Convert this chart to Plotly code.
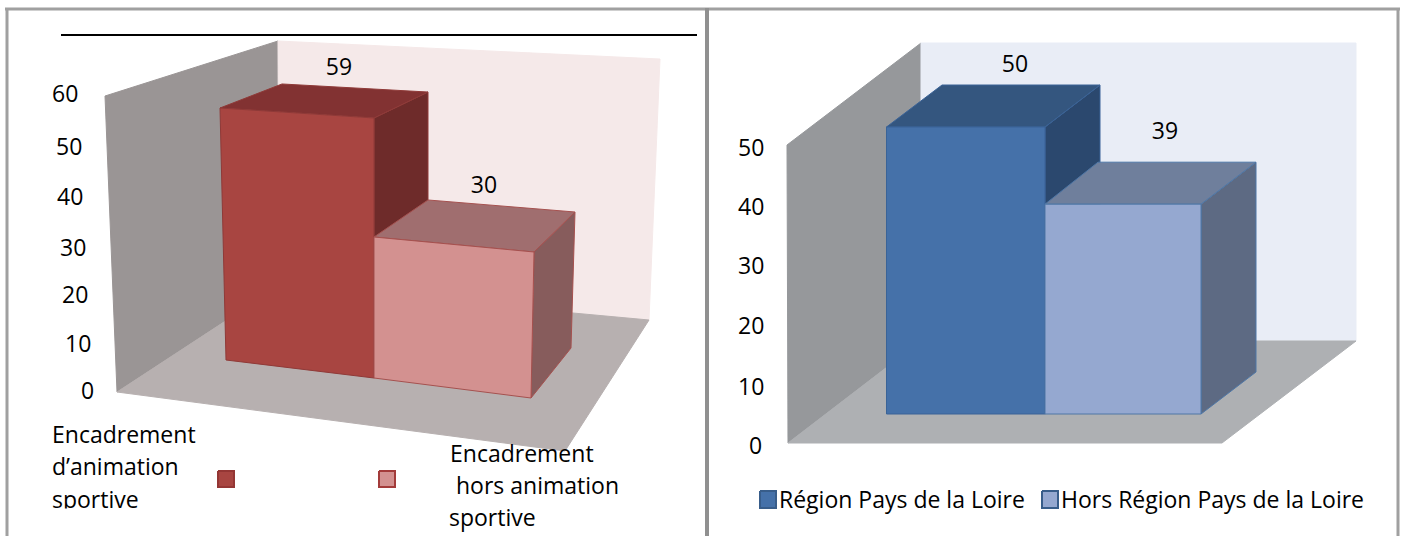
import plotly.graph_objects as go

# ---- data ----
left_categories = ["Encadrement d’animation sportive", "Encadrement hors animation sportive"]
left_values = [59, 30]
left_ticks = ["60", "50", "40", "30", "20", "10", "0"]
right_categories = ["Région Pays de la Loire", "Hors Région Pays de la Loire"]
right_values = [50, 39]
right_ticks = ["50", "40", "30", "20", "10", "0"]

# ---- layout of the drawing (oblique projection of the two 3D charts) ----
FONT = "Open Sans"
FS = 23
TXT = "#000000"
TEXT_DY = 2
fig = go.Figure()


def poly(points, fill, line=None, lw=1):
    xs = [p[0] for p in points] + [points[0][0]]
    ys = [p[1] for p in points] + [points[0][1]]
    fig.add_trace(go.Scatter(x=xs, y=ys, mode="lines", fill="toself", fillcolor=fill,
                             line=dict(color=line or fill, width=lw), hoverinfo="skip"))


def label(x, y, text, pos="middle right"):
    fig.add_trace(go.Scatter(x=[x], y=[y + TEXT_DY], mode="text", text=[text], textposition=pos,
                             textfont=dict(family=FONT, size=FS, color=TXT), hoverinfo="skip"))


def bar(value, base, scale, shift, front, top, side, edge):
    """base: floor corners FL, FR, BR, BL; scale: pixels per unit of value at each corner."""
    t = [(b[0] + d, b[1] - value * k) for b, k, d in zip(base, scale, shift)]
    fl, fr, br, bl = base
    tfl, tfr, tbr, tbl = t
    poly([tfr, tbr, br, fr], side, edge)
    poly([tfl, tfr, tbr, tbl], top, edge)
    poly([tfl, tfr, fr, fl], front, edge)


# ---- left chart ----
poly([(105, 96), (278, 41), (279, 286), (117, 392)], "#9a9595")
poly([(278, 41), (660, 59), (649, 320), (279, 286)], "#f5e9e9")
poly([(117, 392), (279, 286), (649, 320), (565, 451)], "#b7b0b0")
bar(left_values[0],
    [(226, 360), (374, 378), (428, 340), (288, 330)],
    [4.271, 4.407, 4.203, 4.17], [-6, 0, 0, -6],
    "#a84541", "#823232", "#6e2b2a", "#8f3a38")
bar(left_values[1],
    [(374, 378), (531, 398), (571, 348), (428, 340)],
    [4.7, 4.867, 4.533, 4.667], [0, 3, 4, 0],
    "#d39190", "#a06e6f", "#875c5c", "#a5514f")

for text, x, y in zip(left_ticks, [52, 56, 57, 60, 62, 65, 81], [94, 147, 197, 248, 295, 344, 391]):
    label(x, y, text)
label(339, 67, str(left_values[0]), "middle center")
label(484, 185, str(left_values[1]), "middle center")

label(52, 435, "Encadrement")
label(52, 467, "d’animation")
label(52, 500, "sportive")
poly([(40, 509), (205, 509), (205, 530), (40, 530)], "#ffffff")
label(450, 454.5, "Encadrement")
label(456, 486.5, "hors animation")
label(449, 518.3, "sportive")

poly([(218, 471), (234, 471), (234, 487), (218, 487)], "#a84541", "#943634", 2)
poly([(379, 471), (395, 471), (395, 487), (379, 487)], "#d39190", "#a33b3a", 2)

# ---- right chart ----
poly([(787, 145), (921, 43), (921, 341), (788, 443)], "#96989b")
poly([(921, 43), (1356, 43), (1356, 341), (921, 341)], "#e9edf6")
poly([(788, 443), (921, 341), (1356, 341), (1222, 443)], "#aeb0b3")
bar(right_values[0],
    [(886.5, 414), (1045, 414), (1100, 372), (942, 372)],
    [5.74] * 4, [0] * 4,
    "#4571a9", "#34567f", "#2b486e", "#3a6397")
bar(right_values[1],
    [(1045, 414), (1201, 414), (1256, 372), (1098, 372)],
    [5.38] * 4, [0] * 4,
    "#95a8d0", "#6f7f9c", "#5d6a83", "#4f77a6")

for text, x, y in zip(right_ticks, [738, 738, 738, 738, 738, 749], [148, 207, 266, 326, 387, 446]):
    label(x, y, text)
label(1015, 64, str(right_values[0]), "middle center")
label(1165, 131, str(right_values[1]), "middle center")

poly([(760, 491), (776, 491), (776, 508), (760, 508)], "#4571a9", "#385d8a", 2)
poly([(1042, 491), (1058, 491), (1058, 508), (1042, 508)], "#95a8d0", "#385d8a", 2)
label(779, 500, right_categories[0])
label(1061, 500, right_categories[1])

# ---- frame and rule ----
shapes = [
    dict(type="line", x0=61, x1=697, y0=35, y1=35, line=dict(color="#000000", width=2)),
    dict(type="line", x0=5, x1=1400, y0=9, y1=9, line=dict(color="#a0a0a0", width=3)),
    dict(type="line", x0=7, x1=7, y0=8, y1=536, line=dict(color="#a0a0a0", width=3)),
    dict(type="line", x0=707, x1=707, y0=8, y1=536, line=dict(color="#909090", width=4)),
    dict(type="line", x0=1398, x1=1398, y0=8, y1=536, line=dict(color="#a0a0a0", width=3)),
]

fig.update_layout(
    width=1404, height=536, autosize=False,
    margin=dict(l=0, r=0, t=0, b=0),
    paper_bgcolor="#ffffff", plot_bgcolor="#ffffff",
    showlegend=False, shapes=shapes,
    xaxis=dict(range=[0, 1404], visible=False, fixedrange=True),
    yaxis=dict(range=[536, 0], visible=False, fixedrange=True),
)
fig.write_html("out.html", config=dict(displayModeBar=False),
               post_script="document.body.style.margin='0';document.documentElement.style.overflow='hidden';")
